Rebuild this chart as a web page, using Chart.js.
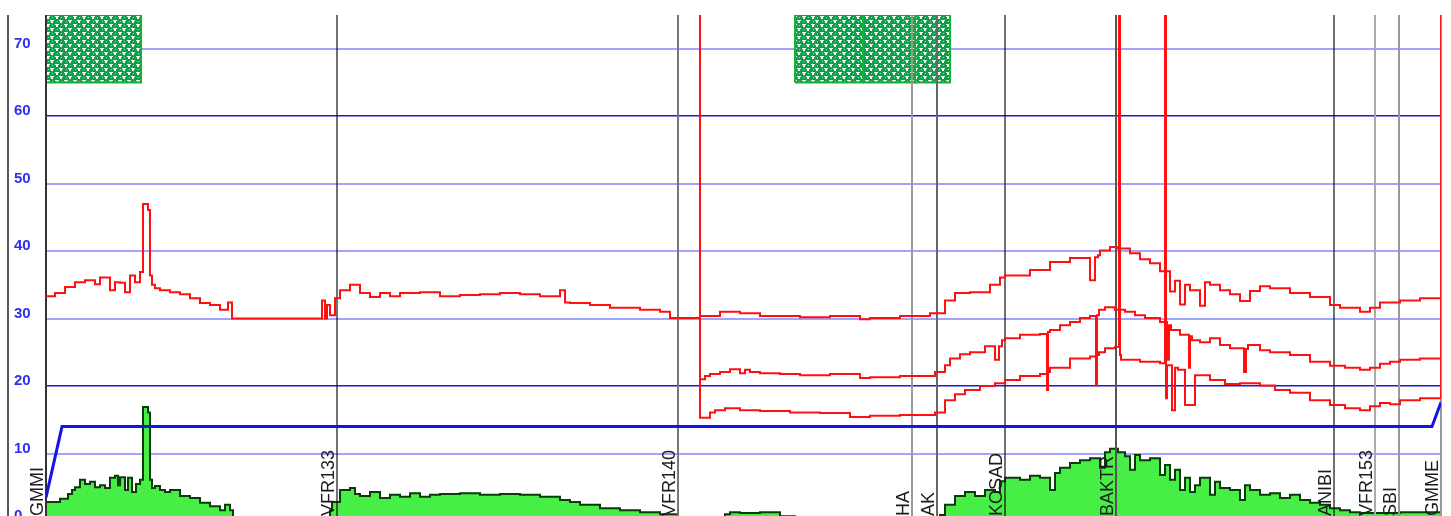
<!DOCTYPE html>
<html>
<head>
<meta charset="utf-8">
<script src="https://cdn.jsdelivr.net/npm/chart.js@4.4.0/dist/chart.umd.min.js"></script>
<style>
  html, body { margin: 0; padding: 0; overflow: hidden; background: #fff; }
  canvas { display: block; }
</style>
</head>
<body>
<canvas id="cntPerfilRuta" width="1451" height="522"></canvas>
<script>
// points de route (distance le long de la route)
const waypointNames = ['GMMI', 'VFR133', 'VFR140', 'HA', 'AK', 'KOSAD', 'BAKTR', 'ANIBI', 'VFR153', 'SBI', 'GMME'];
const waypointDist  = [0, 291, 632, 866, 891, 959, 1070, 1288, 1329, 1353, 1395];
const waypointColor = ['#333', '#111', '#777', '#9a9a9a', '#666', '#111', '#555', '#111', '#aaa', '#999', '#999'];

const yTicks = [0, 10, 20, 30, 40, 50, 60, 70];

// relief
const terrainDist = [0, 14, 22, 26, 29, 34, 39, 44, 49, 54, 59, 64, 69, 72, 74, 79, 82, 86, 90, 94, 97, 99, 102, 104, 106, 109, 114, 119, 124, 134, 144, 154, 164, 174, 179, 184, 187, 189,
  284, 286, 294, 304, 309, 314, 324, 334, 344, 354, 364, 374, 384, 394, 414, 434, 454, 474, 494, 514, 524, 534, 554, 574, 594, 614, 632, 644, 654,
  679, 684, 694, 714, 734, 749, 754, 894, 899, 909, 919, 929, 939, 949, 954, 959, 974, 984, 994, 1004, 1009, 1014, 1024, 1034, 1044, 1054, 1059, 1064, 1072, 1079, 1084, 1089, 1094,
  1104, 1114, 1119, 1124, 1129, 1134, 1139, 1144, 1149, 1154, 1164, 1169, 1174, 1184, 1194, 1199, 1204, 1214, 1224, 1234, 1244, 1254, 1264, 1274, 1284, 1294, 1304, 1314, 1334, 1354, 1374, 1395];
const terrainAlt = [2.8, 2.8, 3.3, 4.0, 4.6, 5.0, 6.1, 5.5, 5.8, 5.0, 5.3, 4.9, 6.4, 6.7, 5.3, 6.5, 4.6, 6.4, 4.3, 5.5, 6.1, 16.9, 16.9, 16.1, 6.1, 4.9, 5.2, 4.6, 4.3, 4.6, 3.7, 3.4, 2.7, 2.2, 1.6, 2.4, 1.6, 0,
  0, 1.6, 2.8, 4.6, 4.9, 4.0, 3.7, 4.3, 3.4, 3.9, 3.6, 4.1, 3.6, 3.9, 4.0, 4.1, 3.9, 4.0, 3.9, 3.6, 3.1, 2.8, 2.4, 1.9, 1.6, 1.3, 1.0, 0.4, 0,
  0, 1.0, 1.3, 1.2, 1.3, 0.7, 0.3, 0.3, 0.9, 2.4, 3.7, 4.3, 3.7, 4.6, 4.3, 5.9, 6.4, 6.1, 6.7, 6.4, 4.6, 7.1, 7.9, 8.6, 9.0, 9.3, 7.9, 10.2, 10.7, 10.2, 9.6, 7.6, 9.8,
  9.0, 9.3, 6.8, 8.3, 6.1, 7.6, 4.6, 6.4, 4.3, 5.3, 6.4, 3.9, 5.8, 4.9, 4.6, 3.1, 5.3, 4.6, 3.9, 4.1, 3.4, 3.9, 3.1, 2.7, 2.4, 1.9, 1.6, 1.3, 1.2, 1.2, 1.3, 1.3];

// profil de vol
const profileDist = [0, 16, 1386, 1395];
const profileAlt  = [3.5, 14.0, 14.0, 17.6];

// courbes rouges
const redTopDist = [0, 9, 19, 29, 39, 49, 54, 64, 69, 74, 79, 84, 89, 94, 97, 99, 102, 104, 106, 109, 114, 124, 134, 144, 154, 164, 174, 182, 186, 189, 214, 254, 276, 279, 281, 284, 289,
  294, 304, 314, 324, 334, 344, 354, 374, 394, 414, 434, 454, 474, 494, 514, 519, 524, 544, 564, 594, 614, 624, 634, 654, 674, 694, 714, 754, 784, 814, 824, 854, 884,
  899, 909, 924, 944, 954, 959, 984, 1004, 1024, 1044, 1049, 1052, 1054, 1064, 1072, 1084, 1094, 1104, 1114, 1124, 1129, 1134, 1139, 1144, 1154, 1159, 1164, 1174,
  1184, 1194, 1204, 1214, 1224, 1244, 1264, 1284, 1294, 1314, 1324, 1334, 1344, 1354, 1374, 1395];
const redTopVal = [33.2, 33.3, 33.8, 34.7, 35.4, 35.7, 35.1, 36.1, 34.2, 35.4, 35.3, 33.9, 36.4, 35.4, 36.9, 47.0, 47.0, 46.1, 36.4, 35.0, 34.5, 34.2, 33.9, 33.6, 33.0, 32.3, 32.0, 31.3, 32.4, 30.0, 30.0, 30.0, 30.0, 32.7, 30.0, 32.0, 30.5,
  33.0, 34.2, 35.0, 33.8, 33.2, 33.8, 33.3, 33.8, 33.9, 33.3, 33.5, 33.6, 33.8, 33.6, 33.3, 34.2, 32.4, 32.3, 32.0, 31.6, 31.3, 31.0, 30.1, 30.1, 30.4, 31.0, 30.8, 30.4, 30.2, 30.4, 29.9, 30.1, 30.4,
  30.8, 32.7, 33.8, 33.9, 35.0, 36.1, 36.4, 37.2, 38.4, 39.0, 35.7, 39.1, 39.4, 40.1, 40.6, 40.4, 39.7, 38.8, 38.2, 37.0, 34.0, 35.6, 32.1, 35.0, 34.2, 31.9, 35.4, 35.0,
  34.2, 33.6, 32.6, 34.1, 34.8, 34.5, 33.8, 33.2, 32.0, 31.6, 31.0, 31.6, 32.4, 32.4, 32.7, 33.0];

const redMidDist = [654, 659, 664, 674, 684, 694, 699, 704, 714, 734, 754, 784, 814, 824, 854, 889, 899, 904, 914, 924, 939, 949, 953, 956, 959, 974, 994, 1001, 1002, 1004,
  1014, 1024, 1034, 1044, 1050, 1051, 1053, 1059, 1069, 1079, 1089, 1099, 1114, 1121, 1123, 1125, 1134, 1143, 1144, 1146, 1154, 1164, 1174, 1184, 1198, 1200, 1202,
  1214, 1224, 1244, 1264, 1284, 1299, 1314, 1324, 1334, 1344, 1354, 1374, 1395];
const redMidVal = [20.9, 21.0, 21.5, 21.8, 22.1, 22.5, 21.9, 22.4, 22.1, 21.9, 21.8, 21.6, 21.8, 21.2, 21.3, 21.5, 22.1, 23.1, 24.1, 24.7, 25.0, 25.9, 23.9, 25.9, 26.8, 27.1, 27.6, 27.7, 20.9, 28.0,
  28.3, 29.0, 29.5, 30.1, 30.4, 20.4, 30.5, 31.3, 31.7, 31.3, 31.0, 30.5, 30.1, 29.5, 23.9, 29.0, 28.3, 27.6, 22.7, 27.4, 26.8, 26.5, 27.1, 26.1, 25.6, 22.1, 25.5,
  26.1, 25.3, 25.0, 24.6, 23.6, 23.0, 22.7, 22.4, 22.7, 23.3, 23.6, 23.9, 24.1];

const redLowDist = [654, 654, 664, 669, 679, 694, 714, 744, 774, 804, 824, 854, 889, 899, 909, 919, 934, 949, 959, 974, 994, 1001, 1002, 1004, 1024, 1044, 1050, 1051, 1053,
  1059, 1069, 1073, 1074, 1075, 1094, 1114, 1119, 1120, 1121, 1126, 1129, 1132, 1139, 1149, 1151, 1164, 1179, 1194, 1214, 1229, 1244, 1264, 1284, 1299, 1314, 1324,
  1334, 1344, 1354, 1374, 1395, 1395];
const redLowVal = [80, 15.3, 15.3, 16.1, 16.4, 16.7, 16.4, 16.3, 16.1, 16.0, 15.4, 15.6, 15.7, 16.1, 17.9, 18.8, 19.4, 20.0, 20.4, 20.9, 21.5, 21.8, 19.4, 22.1, 22.7, 24.1, 24.4, 20.1, 24.6,
  25.0, 25.6, 25.8, 80, 24.6, 23.9, 23.6, 23.4, 80, 18.2, 23.1, 16.4, 22.7, 22.4, 17.2, 21.6, 21.6, 20.9, 20.3, 20.4, 20.1, 19.4, 19.0, 17.9, 17.2, 16.7, 16.4,
  17.0, 17.5, 17.3, 17.9, 18.2, 80];

// zones nuageuses
const cloudFrom = [0, 749, 817, 869];
const cloudTo   = [95, 817, 869, 904];
const cloudBase = [65, 65, 65, 65];
const cloudTop  = [78, 78, 78, 78];

function pts(xs, ys) {
  return xs.map((x, i) => ({ x: x, y: ys[i] }));
}

function motifNuage() {
  const t = document.createElement('canvas');
  t.width = 9; t.height = 8;
  const c = t.getContext('2d');
  c.fillStyle = '#10a04c';
  c.fillRect(0, 0, 9, 8);
  c.fillStyle = 'rgba(255,255,255,0.95)';
  c.fillRect(1, 0, 4, 1);
  c.fillRect(2, 1, 2, 2);
  c.fillRect(5, 4, 4, 1);
  c.fillRect(6, 5, 2, 2);
  c.fillStyle = 'rgba(255,255,255,0.6)';
  c.fillRect(7, 1, 1, 1);
  c.fillRect(3, 5, 1, 1);
  return document.getElementById('cntPerfilRuta').getContext('2d').createPattern(t, 'repeat');
}

const pattern = motifNuage();
const _datasets = [];

_datasets.push({ label: 'Rouge1', data: pts(redTopDist, redTopVal), borderColor: '#ff1010', borderWidth: 2, stepped: 'after', order: 1 });
_datasets.push({ label: 'Rouge2', data: pts(redMidDist, redMidVal), borderColor: '#ff1010', borderWidth: 2, stepped: 'after', order: 1 });
_datasets.push({ label: 'Rouge3', data: pts(redLowDist, redLowVal), borderColor: '#ff1010', borderWidth: 2, stepped: 'after', order: 1 });
_datasets.push({ label: 'Profil', data: pts(profileDist, profileAlt), borderColor: '#1414e6', borderWidth: 3, order: 2 });
_datasets.push({ label: 'Relief', data: pts(terrainDist, terrainAlt), borderColor: '#0b3b0b', borderWidth: 2,
  backgroundColor: '#46ee46', fill: 'origin', stepped: 'after', order: 3 });

for (let i = 0; i < cloudFrom.length; i++) {
  _datasets.push({
    label: 'Nuage' + i,
    data: pts([cloudFrom[i], cloudFrom[i], cloudTo[i], cloudTo[i], cloudFrom[i]],
              [cloudBase[i], cloudTop[i], cloudTop[i], cloudBase[i], cloudBase[i]]),
    borderColor: '#16b236', borderWidth: 2, backgroundColor: pattern, fill: 'shape', order: 4
  });
}

const pluginRuta = {
  id: 'ruta',
  afterDatasetDraw(chart, args) {
    if (chart.data.datasets[args.index].label !== 'Relief') return;
    const { ctx, chartArea, scales } = chart;
    ctx.save();
    waypointDist.forEach((d, i) => {
      const x = Math.round(scales.x.getPixelForValue(d));
      ctx.strokeStyle = waypointColor[i];
      ctx.lineWidth = waypointColor[i] === '#111' ? 1.2 : 2;
      ctx.beginPath();
      ctx.moveTo(x, chartArea.top);
      ctx.lineTo(x, chartArea.bottom);
      ctx.stroke();
    });
    ctx.restore();
  },
  afterDatasetsDraw(chart) {
    const { ctx, chartArea, scales } = chart;
    ctx.save();
    const lx = scales.y.left - 6;
    ctx.strokeStyle = '#222';
    ctx.lineWidth = 1.5;
    ctx.beginPath();
    ctx.moveTo(lx, chartArea.top);
    ctx.lineTo(lx, chart.height);
    ctx.stroke();

    ctx.font = '18px "Liberation Sans", Arial, sans-serif';
    ctx.fillStyle = '#1c1c1c';
    ctx.textAlign = 'left';
    ctx.textBaseline = 'alphabetic';
    waypointNames.forEach((n, i) => {
      const x = scales.x.getPixelForValue(waypointDist[i]) - 3;
      ctx.save();
      ctx.translate(x, chartArea.bottom - 5);
      ctx.rotate(-Math.PI / 2);
      ctx.fillText(n, 0, 0);
      ctx.restore();
    });
    ctx.restore();
  }
};

const esFuerte = c => c.tick && (c.tick.value === 60 || c.tick.value === 20);

const config = {
  type: 'line',
  data: { datasets: _datasets },
  options: {
    responsive: false,
    animation: false,
    events: [],
    elements: { point: { radius: 0 }, line: { tension: 0 } },
    layout: { padding: { left: 14, top: 15, right: 10, bottom: 1 } },
    plugins: { legend: { display: false }, tooltip: { enabled: false } },
    scales: {
      x: { type: 'linear', min: 0, max: 1395, display: false },
      y: {
        min: 0, max: 75,
        afterBuildTicks: s => { s.ticks = yTicks.map(v => ({ value: v })); },
        afterFit: s => { s.width = 32; s.paddingTop = 0; s.paddingBottom = 0; },
        border: { display: false },
        grid: {
          drawTicks: false,
          color: c => esFuerte(c) ? '#1a1ad8' : 'rgba(100,100,255,0.6)',
          lineWidth: c => esFuerte(c) ? 1.6 : 2
        },
        ticks: {
          crossAlign: 'far',
          labelOffset: -5,
          padding: 0,
          color: '#2f2ff2',
          font: { family: '"Liberation Sans", Arial, sans-serif', size: 15, weight: 'bold' }
        }
      }
    }
  },
  plugins: [pluginRuta]
};

window.grafPerfil = new Chart(document.getElementById('cntPerfilRuta').getContext('2d'), config);
</script>
</body>
</html>
